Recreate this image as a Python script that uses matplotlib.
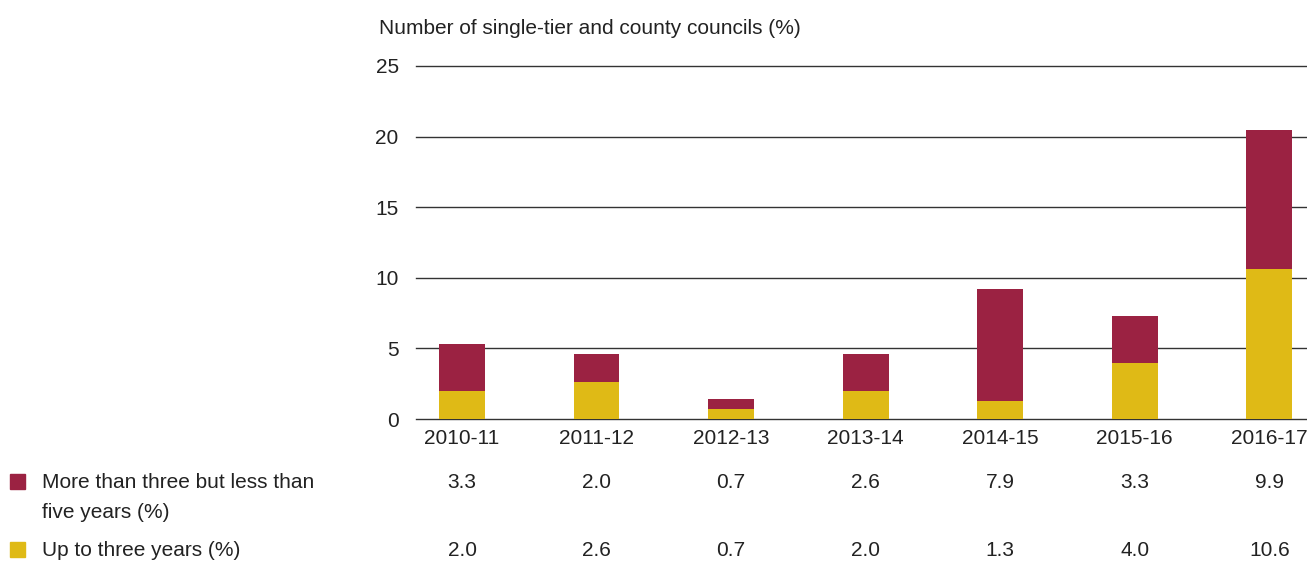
import matplotlib.pyplot as plt
import numpy as np
from matplotlib.patches import Rectangle
from matplotlib import transforms

plt.rcParams['font.family'] = ['Liberation Sans', 'DejaVu Sans']

years = ['2010-11', '2011-12', '2012-13', '2013-14', '2014-15', '2015-16', '2016-17']
up_to_three = [2.0, 2.6, 0.7, 2.0, 1.3, 4.0, 10.6]
three_to_five = [3.3, 2.0, 0.7, 2.6, 7.9, 3.3, 9.9]
series_names = ['More than three but less than\nfive years (%)', 'Up to three years (%)']

maroon = '#9b2242'
yellow = '#dfba16'
txt = '#222222'
fs = 15

fig = plt.figure(figsize=(13.07, 5.61), dpi=100)
ax = fig.add_axes([0.3183, 0.2531, 0.6817, 0.6293])

x = np.arange(len(years))
ax.bar(x, up_to_three, width=0.34, color=yellow, zorder=3)
ax.bar(x, three_to_five, width=0.34, bottom=up_to_three, color=maroon, zorder=3)

ax.set_xlim(-0.342, 6.28)
ax.set_ylim(0, 25)
ax.set_yticks([0, 5, 10, 15, 20, 25])
for yv in [0, 5, 10, 15, 20, 25]:
    ax.axhline(yv, color='#333333', linewidth=1.0, zorder=1, clip_on=False)
for s in ax.spines.values():
    s.set_visible(False)
ax.tick_params(axis='y', length=0, pad=12.5, labelsize=fs, labelcolor=txt)
ax.set_xticks(x)
ax.set_xticklabels(years)
ax.tick_params(axis='x', length=0, pad=7, labelsize=fs, labelcolor=txt)

fig.text(379 / 1307, 1 - 28 / 561, 'Number of single-tier and county councils (%)',
         fontsize=fs, color=txt, va='center', ha='left')

# values table under the axis
trans = transforms.blended_transform_factory(ax.transData, fig.transFigure)
for i in range(len(years)):
    ax.text(x[i], 1 - 482 / 561, f'{three_to_five[i]:.1f}', transform=trans,
            ha='center', va='center', fontsize=fs, color=txt, clip_on=False)
    ax.text(x[i], 1 - 550 / 561, f'{up_to_three[i]:.1f}', transform=trans,
            ha='center', va='center', fontsize=fs, color=txt, clip_on=False)

# legend squares
for ypix, col in [(482, maroon), (550, yellow)]:
    fig.patches.append(Rectangle((10 / 1307, 1 - (ypix + 7) / 561), 15 / 1307, 15 / 561,
                                 transform=fig.transFigure, color=col))
fig.text(42 / 1307, 1 - 482 / 561, series_names[0].split('\n')[0], fontsize=fs, color=txt,
         va='center', ha='left')
fig.text(42 / 1307, 1 - 512 / 561, series_names[0].split('\n')[1], fontsize=fs, color=txt,
         va='center', ha='left')
fig.text(42 / 1307, 1 - 550 / 561, series_names[1], fontsize=fs, color=txt,
         va='center', ha='left')

fig.savefig('out.png', dpi=100)
